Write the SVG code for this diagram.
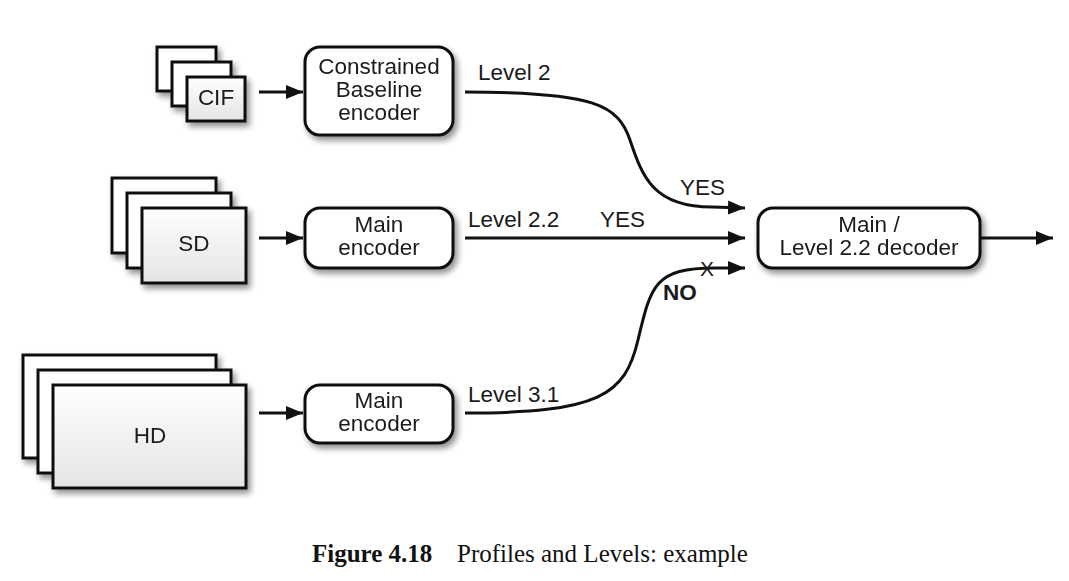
<svg xmlns="http://www.w3.org/2000/svg" width="1069" height="581" viewBox="0 0 1069 581">
<style>
.frame{stroke:#111;stroke-width:3;fill:#fff}
.front{stroke:#111;stroke-width:3;fill:url(#g)}
.box{stroke:#111;stroke-width:3;fill:#fff}
.t{font-family:"Liberation Sans",Arial,sans-serif;font-size:22.5px;fill:#1a1a1a}
.c{text-anchor:middle}
.line{stroke:#111;stroke-width:3;fill:none}
.cap{font-family:"Liberation Serif","Times New Roman",serif;font-size:25px;fill:#111}
</style>
<defs>
<linearGradient id="g" x1="0" y1="0" x2="0" y2="1">
<stop offset="0" stop-color="#ffffff"/>
<stop offset="1" stop-color="#e4e4e4"/>
</linearGradient>
<filter id="sh" x="-20%" y="-20%" width="150%" height="160%">
<feGaussianBlur in="SourceAlpha" stdDeviation="3"/>
<feOffset dx="3" dy="4" result="b"/>
<feComponentTransfer><feFuncA type="linear" slope="0.45"/></feComponentTransfer>
<feMerge><feMergeNode/><feMergeNode in="SourceGraphic"/></feMerge>
</filter>
<marker id="ah" markerUnits="userSpaceOnUse" markerWidth="20" markerHeight="16" refX="17" refY="7" orient="auto">
<path d="M0,0 L17,7 L0,14 Z" fill="#111"/>
</marker>
</defs>
<rect width="1069" height="581" fill="#fff"/>

<g id="cif" filter="url(#sh)">
<rect class="frame" x="157" y="47" width="59" height="44"/>
<rect class="frame" x="172" y="62" width="59" height="44"/>
<rect class="front" x="187" y="77" width="58" height="44"/>
<text class="t c" x="216" y="105">CIF</text>
</g>
<g id="sd" filter="url(#sh)">
<rect class="frame" x="112" y="178" width="104" height="75"/>
<rect class="frame" x="127" y="193" width="104" height="75"/>
<rect class="front" x="142" y="208" width="104" height="75"/>
<text class="t c" x="194" y="251">SD</text>
</g>
<g id="hd" filter="url(#sh)">
<rect class="frame" x="23" y="355" width="193" height="103"/>
<rect class="frame" x="38" y="370" width="193" height="103"/>
<rect class="front" x="53" y="385" width="193" height="103"/>
<text class="t c" x="150" y="443">HD</text>
</g>

<g id="enc-cb" filter="url(#sh)">
<rect class="box" x="305" y="47" width="148" height="88" rx="15"/>
<text class="t c" x="379" y="74">Constrained</text>
<text class="t c" x="379" y="97">Baseline</text>
<text class="t c" x="379" y="120">encoder</text>
</g>
<g id="enc-sd" filter="url(#sh)">
<rect class="box" x="305" y="208" width="148" height="60" rx="15"/>
<text class="t c" x="379" y="232">Main</text>
<text class="t c" x="379" y="255">encoder</text>
</g>
<g id="enc-hd" filter="url(#sh)">
<rect class="box" x="305" y="385" width="148" height="58" rx="15"/>
<text class="t c" x="379" y="408">Main</text>
<text class="t c" x="379" y="431">encoder</text>
</g>
<g id="decoder" filter="url(#sh)">
<rect class="box" x="758" y="208" width="222" height="60" rx="15"/>
<text class="t c" x="869" y="232">Main /</text>
<text class="t c" x="869" y="255">Level 2.2 decoder</text>
</g>

<g id="connectors">
<line class="line" x1="259" y1="92" x2="303" y2="92" marker-end="url(#ah)"/>
<line class="line" x1="259" y1="238" x2="303" y2="238" marker-end="url(#ah)"/>
<line class="line" x1="259" y1="413" x2="303" y2="413" marker-end="url(#ah)"/>
<path class="line" d="M465,92 C595,92 618,105 630,140 S652,207 712,207 L745,208" marker-end="url(#ah)"/>
<line class="line" x1="465" y1="238" x2="745" y2="238" marker-end="url(#ah)"/>
<path class="line" d="M465,413 C600,413 625,395 638,340 S655,268 715,268 L745,268" marker-end="url(#ah)"/>
<line class="line" x1="980" y1="238" x2="1053" y2="238" marker-end="url(#ah)"/>
</g>

<g id="labels">
<text class="t" x="478" y="80">Level 2</text>
<text class="t" x="680" y="195">YES</text>
<text class="t" x="468" y="227">Level 2.2</text>
<text class="t" x="600" y="227">YES</text>
<text class="t" x="707" y="276" text-anchor="middle" style="font-size:21px">X</text>
<text class="t" x="663" y="300" style="font-weight:bold">NO</text>
<text class="t" x="468" y="402">Level 3.1</text>
</g>

<text class="cap" x="312" y="562"><tspan font-weight="bold">Figure 4.18</tspan><tspan x="457">Profiles and Levels: example</tspan></text>
</svg>
